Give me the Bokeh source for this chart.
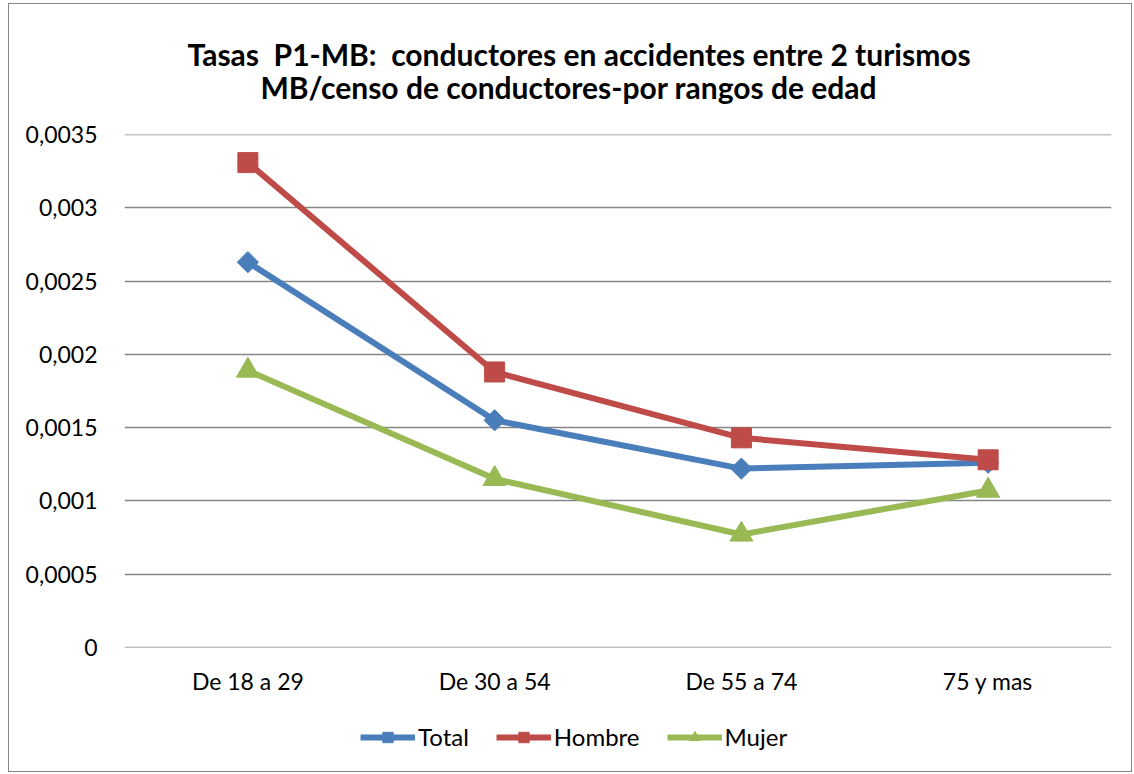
import math
from bokeh.plotting import figure
from bokeh.layouts import column
from bokeh.models import (Legend, LegendItem, FixedTicker, CustomJSTickFormatter,
                          Title, ColumnDataSource, Range1d)
from bokeh.embed import file_html
from bokeh.resources import INLINE

categories = ["De 18 a 29", "De 30 a 54", "De 55 a 74", "75 y mas"]
total = [0.00263, 0.00155, 0.00122, 0.00126]
hombre = [0.00331, 0.00188, 0.00143, 0.00128]
mujer = [0.00189, 0.00115, 0.00077, 0.00107]
y_ticks = [0, 0.0005, 0.001, 0.0015, 0.002, 0.0025, 0.003, 0.0035]
title_lines = ["Tasas \u00a0P1-MB: \u00a0conductores en accidentes entre 2 turismos",
               "MB/censo de conductores-por rangos de edad"]

FONT = "Lato"
BLUE = "#4A7EBB"
RED = "#BE4B48"
GREEN = "#98B954"
series = [("Total", "total", BLUE, "square", 15, math.pi / 4),
          ("Hombre", "hombre", RED, "square", 20, 0),
          ("Mujer", "mujer", GREEN, "triangle", 23, 0)]

p = figure(x_range=categories, y_range=(-0.000002, 0.003502), width=1122, height=703,
           output_backend="svg", toolbar_location=None,
           min_border_left=115, min_border_right=20, min_border_top=130,
           min_border_bottom=60)
p.title = None
p.outline_line_color = None
p.xgrid.grid_line_color = None
p.ygrid.grid_line_color = "#868686"
p.ygrid.grid_line_width = 1.5
p.yaxis.ticker = FixedTicker(ticks=y_ticks)
p.yaxis.formatter = CustomJSTickFormatter(code="""
    if (Math.abs(tick) < 1e-9) return '0';
    return tick.toFixed(4).replace(/0+$/, '').replace('.', ',');
""")
for ax in (p.xaxis, p.yaxis):
    ax.axis_line_color = None
    ax.major_tick_line_color = None
    ax.minor_tick_line_color = None
    ax.major_label_text_font = FONT
    ax.major_label_text_font_size = "23px"
    ax.major_label_text_color = "#000000"
p.yaxis.major_label_standoff = 21
p.xaxis.major_label_standoff = 13

src = ColumnDataSource(dict(x=categories, total=total, hombre=hombre, mujer=mujer))

for name, col, color, marker, size, ang in series:
    p.line("x", col, source=src, color=color, line_width=6)
    p.scatter("x", col, source=src, marker=marker, size=size, angle=ang, color=color)

# two centred title lines (second line indented so it centres under the first)
title_text = title_lines[0] + "\n" + "\u00a0" * 10 + title_lines[1]
p.add_layout(Title(text=title_text, text_font=FONT,
                   text_font_style="bold", text_font_size="30px", align="left",
                   text_color="#000000", text_line_height=0.93, standoff=59,
                   offset=63), "above")

# legend strip below the chart (series drawn out of view, only the legend shows)
lg = figure(width=1122, height=64, output_backend="svg", toolbar_location=None,
            x_range=p.x_range, y_range=Range1d(1, 2), min_border=0,
            x_axis_location=None, y_axis_location=None)
lg.grid.visible = False
lg.outline_line_color = None
items = []
for name, col, color, marker, size, ang in series:
    r1 = lg.line("x", col, source=src, color=color, line_width=6)
    r2 = lg.scatter("x", col, source=src, marker=marker, size=size, angle=ang,
                    color=color)
    items.append(LegendItem(label=name, renderers=[r1, r2]))
legend = Legend(items=items, orientation="horizontal", location=(236, 20),
                label_text_font=FONT, label_text_font_size="24px",
                label_text_color="#000000",
                glyph_width=55, glyph_height=26, spacing=27,
                border_line_color=None, background_fill_alpha=0,
                label_standoff=3, padding=0, margin=0)
lg.add_layout(legend, "center")

layout = column(p, lg, spacing=0,
                styles={"border": "1px solid #868686", "margin-left": "8px",
                        "margin-top": "3px", "background": "white"})

open("out.html", "w").write(file_html(layout, INLINE))
